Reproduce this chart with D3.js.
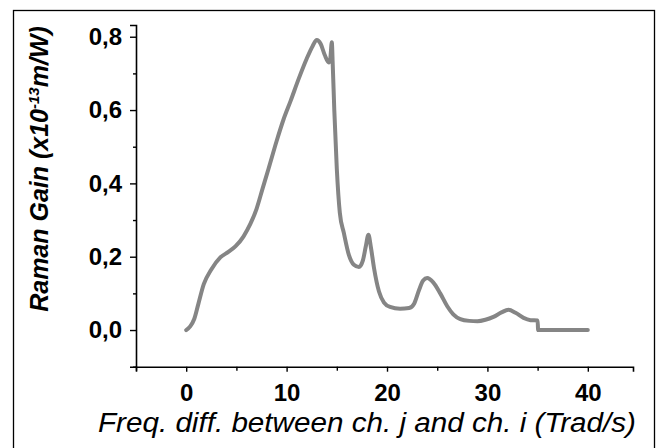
<!DOCTYPE html>
<html>
<head>
<meta charset="utf-8">
<script src="https://cdn.jsdelivr.net/npm/d3@7"></script>
<style>
  body { margin: 0; background: #fff; }
  svg { display: block; font-family: "Liberation Sans", Arial, sans-serif; }
</style>
</head>
<body>
<div id="chart"></div>
<script>
// Raman gain curve (x in Trad/s, gain in 1e-13 m/W)
var freq = [0, 0.4, 0.8, 1.2, 1.75, 2.5, 3.4, 4.2, 4.9, 5.7, 6.4, 7.0, 7.6, 8.2, 9.0, 9.7,
            10.4, 11.2, 12.0, 12.6, 13.0, 13.4, 13.8, 14.2, 14.35, 14.5, 14.6, 14.75, 15.0,
            15.3, 15.7, 16.2, 16.7, 17.2, 17.6, 17.9, 18.15, 18.4, 18.7, 19.2, 19.7, 20.3,
            21.3, 22.2, 22.7, 23.2, 23.6, 24.0, 24.6, 25.3, 26.0, 26.6, 27.3, 28.2, 29.0,
            29.8, 30.6, 31.4, 32.1, 32.8, 33.6, 34.3, 35.0, 35.05, 37.0, 40.0];
var gain = [0, 0.01, 0.03, 0.07, 0.125, 0.165, 0.198, 0.213, 0.228, 0.255, 0.29, 0.33, 0.385, 0.44, 0.515, 0.575,
            0.625, 0.685, 0.74, 0.775, 0.791, 0.78, 0.75, 0.73, 0.74, 0.785, 0.72, 0.6, 0.44,
            0.32, 0.265, 0.205, 0.178, 0.172, 0.19, 0.23, 0.26, 0.225, 0.17, 0.105, 0.075, 0.063,
            0.058, 0.06, 0.072, 0.11, 0.135, 0.142, 0.13, 0.1, 0.065, 0.043, 0.03, 0.025, 0.024,
            0.028, 0.036, 0.048, 0.055, 0.047, 0.033, 0.027, 0.026, 0, 0, 0];

var xMajor = [0, 10, 20, 30, 40];
var xMinor = [-5, 5, 15, 25, 35];
var yMajor = [0, 0.2, 0.4, 0.6, 0.8];
var yMinor = [-0.1, 0.1, 0.3, 0.5, 0.7];

var w = 661, h = 448;
var mLeft = 136, mRight = 633, mTop = 25, mBottom = 366.7;

var svg = d3.select("#chart").append("svg")
    .attr("width", w)
    .attr("height", h);

svg.append("rect").attr("width", w).attr("height", h).attr("fill", "#fff");

// outer frame
svg.append("rect")
    .attr("x", 13.5).attr("y", 10.5)
    .attr("width", 641).attr("height", 445)
    .attr("fill", "none").attr("stroke", "#000").attr("stroke-width", 1.3);

var x = d3.scaleLinear().domain([-5, 44.5]).range([mLeft, mRight]);
var y = d3.scaleLinear().domain([-0.1, 0.832]).range([mBottom, mTop]);

var comma = function (d) { return d3.format(".1f")(d).replace(".", ","); };

// y axis
var gy = svg.append("g").attr("transform", "translate(" + mLeft + ",0)");
gy.call(d3.axisLeft(y).tickValues(yMajor).tickSize(6).tickPadding(8).tickFormat(comma));
gy.append("g").call(d3.axisLeft(y).tickValues(yMinor).tickSize(3).tickFormat(""))
    .select(".domain").remove();

// x axis
var gx = svg.append("g").attr("transform", "translate(0," + mBottom + ")");
gx.call(d3.axisBottom(x).tickValues(xMajor).tickSize(5).tickPadding(12).tickFormat(d3.format("d")));
gx.append("g").call(d3.axisBottom(x).tickValues(xMinor).tickSize(4).tickFormat(""))
    .select(".domain").remove();

svg.selectAll(".domain").attr("stroke", "#000").attr("stroke-width", 1.6);
svg.selectAll(".tick line").attr("stroke", "#000").attr("stroke-width", 1.4);
svg.selectAll(".tick text")
    .attr("fill", "#000")
    .style("font-family", "'Liberation Sans', Arial, sans-serif")
    .style("font-size", "24px")
    .style("font-weight", "bold");

// curve
var pts = freq.map(function (f, i) { return [f, gain[i]]; });
var line = d3.line()
    .x(function (d) { return x(d[0]); })
    .y(function (d) { return y(d[1]); })
    .curve(d3.curveMonotoneX);

svg.append("path")
    .datum(pts)
    .attr("d", line)
    .attr("fill", "none")
    .attr("stroke", "#858585")
    .attr("stroke-width", 4)
    .attr("stroke-linejoin", "round")
    .attr("stroke-linecap", "round");

// axis titles
svg.append("text")
    .attr("x", 98).attr("y", 432)
    .attr("textLength", 538)
    .attr("lengthAdjust", "spacingAndGlyphs")
    .style("font-size", "27px")
    .style("font-style", "italic")
    .text("Freq. diff. between ch. j and ch. i (Trad/s)");

var yt = svg.append("text")
    .attr("transform", "translate(48,169) rotate(-90)")
    .attr("text-anchor", "middle")
    .style("font-size", "25px")
    .style("font-style", "italic")
    .style("font-weight", "bold");
yt.append("tspan").text("Raman Gain (x10");
yt.append("tspan").attr("dy", -9).style("font-size", "15px").text("-13");
yt.append("tspan").attr("dy", 9).text("m/W)");
</script>
</body>
</html>
